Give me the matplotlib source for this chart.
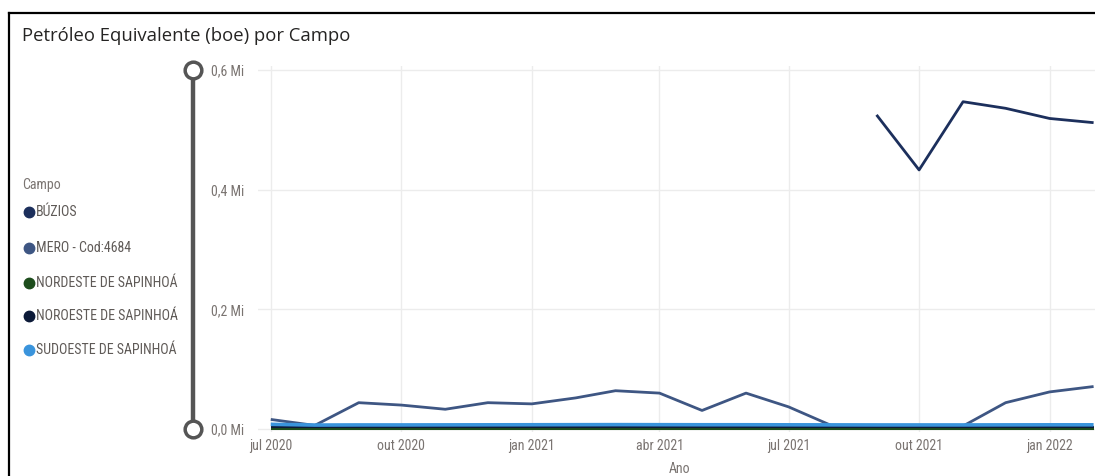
import matplotlib
matplotlib.use("Agg")
import matplotlib.pyplot as plt
from matplotlib.lines import Line2D
import numpy as np
import pandas as pd

# data (boe, in millions)
months = pd.date_range("2020-07-01", "2022-02-01", freq="MS")

campos = ["BÚZIOS", "MERO - Cod:4684", "NORDESTE DE SAPINHOÁ",
          "NOROESTE DE SAPINHOÁ", "SUDOESTE DE SAPINHOÁ"]
colors = ["#1c2f5c", "#3e5683", "#1d4d1c", "#0c1a38", "#3a94dc"]

buzios = [np.nan] * 14 + [0.525, 0.433, 0.547, 0.536, 0.519, 0.512]
mero = [0.016, 0.006, 0.044, 0.040, 0.033, 0.044, 0.042, 0.052, 0.064, 0.060,
        0.031, 0.060, 0.037, 0.005, 0.005, 0.005, 0.005, 0.044, 0.062, 0.071]
nordeste = [0.0007] * 20
noroeste = [0.0028] * 20
sudoeste = [0.0078, 0.0066, 0.0068, 0.0068, 0.0069, 0.0070, 0.0071, 0.0072,
            0.0073, 0.0072, 0.0071, 0.0071, 0.0070, 0.0069, 0.0068, 0.0068,
            0.0068, 0.0069, 0.0070, 0.0070]
series = [buzios, mero, nordeste, noroeste, sudoeste]
widths = [2.0, 2.0, 1.5, 1.5, 2.6]

tick_dates = pd.to_datetime(["2020-07-01", "2020-10-01", "2021-01-01", "2021-04-01",
                             "2021-07-01", "2021-10-01", "2022-01-01"])
tick_labels = ["jul 2020", "out 2020", "jan 2021", "abr 2021",
               "jul 2021", "out 2021", "jan 2022"]
y_ticks = [0.0, 0.2, 0.4, 0.6]
y_labels = ["0,0 Mi", "0,2 Mi", "0,4 Mi", "0,6 Mi"]

W, H = 1095, 476
NARROW = ["Roboto Condensed", "Liberation Sans Narrow", "Roboto", "DejaVu Sans"]
GREY = "#7a7471"


def fx(x):
    return x / W


def fy(y):
    return 1 - y / H


fig = plt.figure(figsize=(W / 100, H / 100), dpi=100)
fig.patch.set_facecolor("white")

ax = fig.add_axes([fx(258), fy(432), fx(1095 - 258), (432 - 66) / H])
for vals, c, lw in zip(series, colors, widths):
    ax.plot(months, vals, color=c, linewidth=lw, solid_capstyle="butt")

ax.set_xlim(pd.Timestamp("2020-06-22"), pd.Timestamp("2022-02-02"))
ax.set_ylim(-0.005, 0.6067)
ax.set_xticks(tick_dates)
ax.set_xticklabels(tick_labels)
ax.set_yticks(y_ticks)
ax.set_yticklabels(y_labels)
ax.tick_params(length=0, labelsize=10, labelcolor=GREY)
ax.tick_params(axis="x", pad=5)
ax.tick_params(axis="y", pad=10)
for lab in ax.get_xticklabels() + ax.get_yticklabels():
    lab.set_family(NARROW)
ax.grid(True, color="#ececec", linewidth=1.0)
ax.set_axisbelow(True)
for s in ax.spines.values():
    s.set_visible(False)

# title and axis name
fig.text(fx(22), fy(36), "Petróleo Equivalente (boe) por Campo", fontsize=13.3,
         color="#252423", va="center", ha="left", family=["Open Sans", "DejaVu Sans"])
fig.text(fx(680), fy(462), "Ano", fontsize=10, color=GREY, va="top",
         ha="center", family=NARROW)

# legend
fig.text(fx(22), fy(185), "Campo", fontsize=10, color=GREY, va="center",
         family=NARROW)
leg_y = [212, 248, 283, 316, 350]
for name, c, y in zip(campos, colors, leg_y):
    fig.add_artist(Line2D([fx(29)], [fy(y)], marker="o", markersize=7.5, color=c,
                          linestyle="", transform=fig.transFigure))
    fig.text(fx(36), fy(y), name, fontsize=10, color="#5f5a57", va="center",
             family=NARROW)

# range slider
fig.add_artist(Line2D([fx(193), fx(193)], [fy(70), fy(429)], color="#555555",
                      linewidth=3.2, transform=fig.transFigure))
for y in (70, 429):
    fig.add_artist(Line2D([fx(193)], [fy(y)], marker="o", markersize=12,
                          markerfacecolor="white", markeredgecolor="#555555",
                          markeredgewidth=2.5, linestyle="",
                          transform=fig.transFigure))

# frame
fig.add_artist(Line2D([fx(8.5), 1], [fy(12.5), fy(12.5)], color="black",
                      linewidth=1.6, transform=fig.transFigure))
fig.add_artist(Line2D([fx(8.5), fx(8.5)], [fy(12.5), 0], color="black",
                      linewidth=1.6, transform=fig.transFigure))

fig.savefig("out.png", dpi=100, facecolor="white")
